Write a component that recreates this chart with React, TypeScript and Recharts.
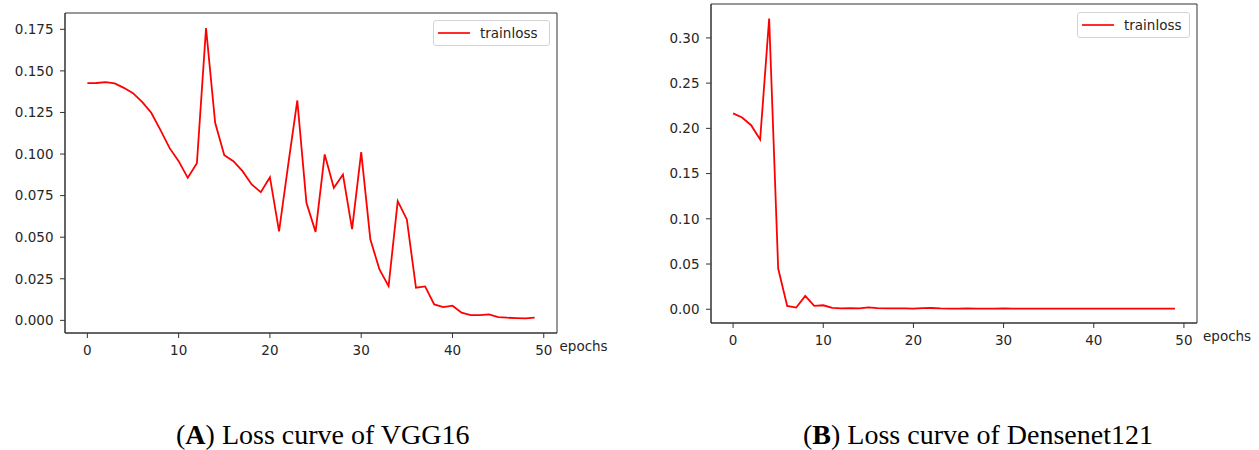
import React from 'react';
import { LineChart, Line, XAxis, YAxis, ReferenceArea, Legend, Label } from 'recharts';

const epochs = [
  0, 1, 2, 3, 4, 5, 6, 7, 8, 9, 10, 11, 12, 13, 14, 15, 16, 17, 18, 19, 20, 21, 22, 23, 24,
  25, 26, 27, 28, 29, 30, 31, 32, 33, 34, 35, 36, 37, 38, 39, 40, 41, 42, 43, 44, 45, 46, 47, 48, 49,
];

const vggLoss = [
  0.1426, 0.1427, 0.1432, 0.1425, 0.1398, 0.1366, 0.1314, 0.1248, 0.1145, 0.1037,
  0.0957, 0.0857, 0.0945, 0.1758, 0.1188, 0.0993, 0.0957, 0.0897, 0.0817, 0.0771,
  0.0861, 0.0535, 0.0935, 0.1322, 0.0707, 0.0532, 0.0998, 0.0797, 0.0877, 0.0549,
  0.1011, 0.0487, 0.0306, 0.0206, 0.0717, 0.0607, 0.0196, 0.0204, 0.0096, 0.008,
  0.0088, 0.0046, 0.0032, 0.0032, 0.0036, 0.002, 0.0016, 0.0014, 0.0012, 0.0016,
];

const densenetLoss = [
  0.2165, 0.212, 0.2035, 0.1877, 0.3215, 0.045, 0.0037, 0.0019, 0.0147, 0.0037,
  0.0044, 0.0015, 0.001, 0.0012, 0.001, 0.002, 0.0013, 0.001, 0.0009, 0.0009,
  0.0008, 0.0013, 0.0014, 0.0009, 0.0008, 0.0008, 0.001, 0.0008, 0.0008, 0.0008,
  0.001, 0.0008, 0.0008, 0.0008, 0.0008, 0.0008, 0.0008, 0.0008, 0.0008, 0.0008,
  0.0008, 0.0008, 0.0008, 0.0008, 0.0008, 0.0008, 0.0008, 0.0008, 0.0008, 0.0008,
];

const xTicks = [0, 10, 20, 30, 40, 50];
const vggYTicks = [0, 0.025, 0.05, 0.075, 0.1, 0.125, 0.15, 0.175];
const densenetYTicks = [0, 0.05, 0.1, 0.15, 0.2, 0.25, 0.3];
const seriesName = 'trainloss';
const xAxisName = 'epochs';
const captionA = { tag: 'A', text: ' Loss curve of VGG16' };
const captionB = { tag: 'B', text: ' Loss curve of Densenet121' };

const vggData = epochs.map((e, i) => ({ epoch: e, trainloss: vggLoss[i] }));
const densenetData = epochs.map((e, i) => ({ epoch: e, trainloss: densenetLoss[i] }));

const X_DOMAIN: [number, number] = [-2.45, 51.45];
const FONT = "'DejaVu Sans', sans-serif";
const TEXT = '#262626';
const FRAME = '#333333';
const LINE_RED = '#ff0000';

const LegendBox = ({ w }: { w: number }) => (
  <div
    style={{
      width: w,
      height: 26,
      boxSizing: 'border-box',
      border: '1px solid #d4d4d4',
      borderRadius: 3,
      background: '#ffffff',
      position: 'relative',
      fontFamily: FONT,
      fontSize: 13.5,
      color: TEXT,
    }}
  >
    <svg width={40} height={24} style={{ position: 'absolute', left: 0, top: 0 }}>
      <line x1={4} x2={36} y1={12} y2={12} stroke="#ff2a2a" strokeWidth={2} />
    </svg>
    <span style={{ position: 'absolute', left: 46, top: 0, lineHeight: '24px' }}>{seriesName}</span>
  </div>
);

type PanelProps = {
  data: { epoch: number; trainloss: number }[];
  left: number;
  width: number;
  height: number;
  margin: { top: number; right: number; bottom: number; left: number };
  yWidth: number;
  yDomain: [number, number];
  yTicks: number[];
  digits: number;
  legendLeft: number;
  legendTop: number;
  legendW: number;
  labelOffset: number;
};

const Panel = (p: PanelProps) => (
  <div style={{ position: 'absolute', left: p.left, top: 0 }}>
    <LineChart width={p.width} height={p.height} data={p.data} margin={p.margin}>
      <XAxis
        dataKey="epoch"
        type="number"
        domain={X_DOMAIN}
        ticks={xTicks}
        interval={0}
        allowDataOverflow
        height={27}
        tickSize={5}
        tickMargin={7}
        stroke={FRAME}
        tick={{ fill: TEXT, fontSize: 13.5, fontFamily: FONT }}
      >
        <Label
          value={xAxisName}
          position="right"
          offset={p.labelOffset}
          style={{ fill: TEXT, fontSize: 13.5, fontFamily: FONT }}
        />
      </XAxis>
      <YAxis
        type="number"
        domain={p.yDomain}
        ticks={p.yTicks}
        interval={0}
        allowDataOverflow
        width={p.yWidth}
        tickSize={5}
        tickMargin={6.5}
        stroke={FRAME}
        tickFormatter={(v: number) => v.toFixed(p.digits)}
        tick={{ fill: TEXT, fontSize: 13.5, fontFamily: FONT }}
      />
      <ReferenceArea
        x1={X_DOMAIN[0]}
        x2={X_DOMAIN[1]}
        y1={p.yDomain[0]}
        y2={p.yDomain[1]}
        fill="none"
        fillOpacity={0}
        stroke={FRAME}
        strokeWidth={1}
      />
      <Line
        type="linear"
        dataKey="trainloss"
        name={seriesName}
        stroke={LINE_RED}
        strokeWidth={1.8}
        dot={false}
        isAnimationActive={false}
      />
      <Legend
        layout="vertical"
        align="center"
        verticalAlign="middle"
        content={() => <LegendBox w={p.legendW} />}
        wrapperStyle={{ left: p.legendLeft, top: p.legendTop, width: p.legendW, height: 26 }}
      />
    </LineChart>
  </div>
);

export default function App() {
  return (
    <div
      style={{
        position: 'absolute',
        left: 0,
        top: 0,
        width: 1259,
        height: 450,
        background: '#ffffff',
        overflow: 'hidden',
      }}
    >
      <Panel
        data={vggData}
        left={0}
        width={620}
        height={370}
        margin={{ top: 13, right: 63, bottom: 10, left: 0 }}
        yWidth={65}
        yDomain={[-0.0076, 0.1848]}
        yTicks={vggYTicks}
        digits={3}
        legendLeft={433}
        legendTop={20}
        legendW={117}
        labelOffset={2.5}
      />
      <Panel
        data={densenetData}
        left={640}
        width={619}
        height={370}
        margin={{ top: 4, right: 62, bottom: 20, left: 0 }}
        yWidth={71}
        yDomain={[-0.0152, 0.3375]}
        yTicks={densenetYTicks}
        digits={2}
        legendLeft={437}
        legendTop={12}
        legendW={113}
        labelOffset={6}
      />
      <svg
        width={1259}
        height={450}
        style={{ position: 'absolute', left: 0, top: 0, pointerEvents: 'none' }}
      >
        <text x={176} y={444} fontFamily="'Liberation Serif', serif" fontSize={28} fill="#000">
          (<tspan fontWeight="bold">{captionA.tag}</tspan>){captionA.text}
        </text>
        <text x={803} y={444} fontFamily="'Liberation Serif', serif" fontSize={28} fill="#000">
          (<tspan fontWeight="bold">{captionB.tag}</tspan>){captionB.text}
        </text>
      </svg>
    </div>
  );
}
